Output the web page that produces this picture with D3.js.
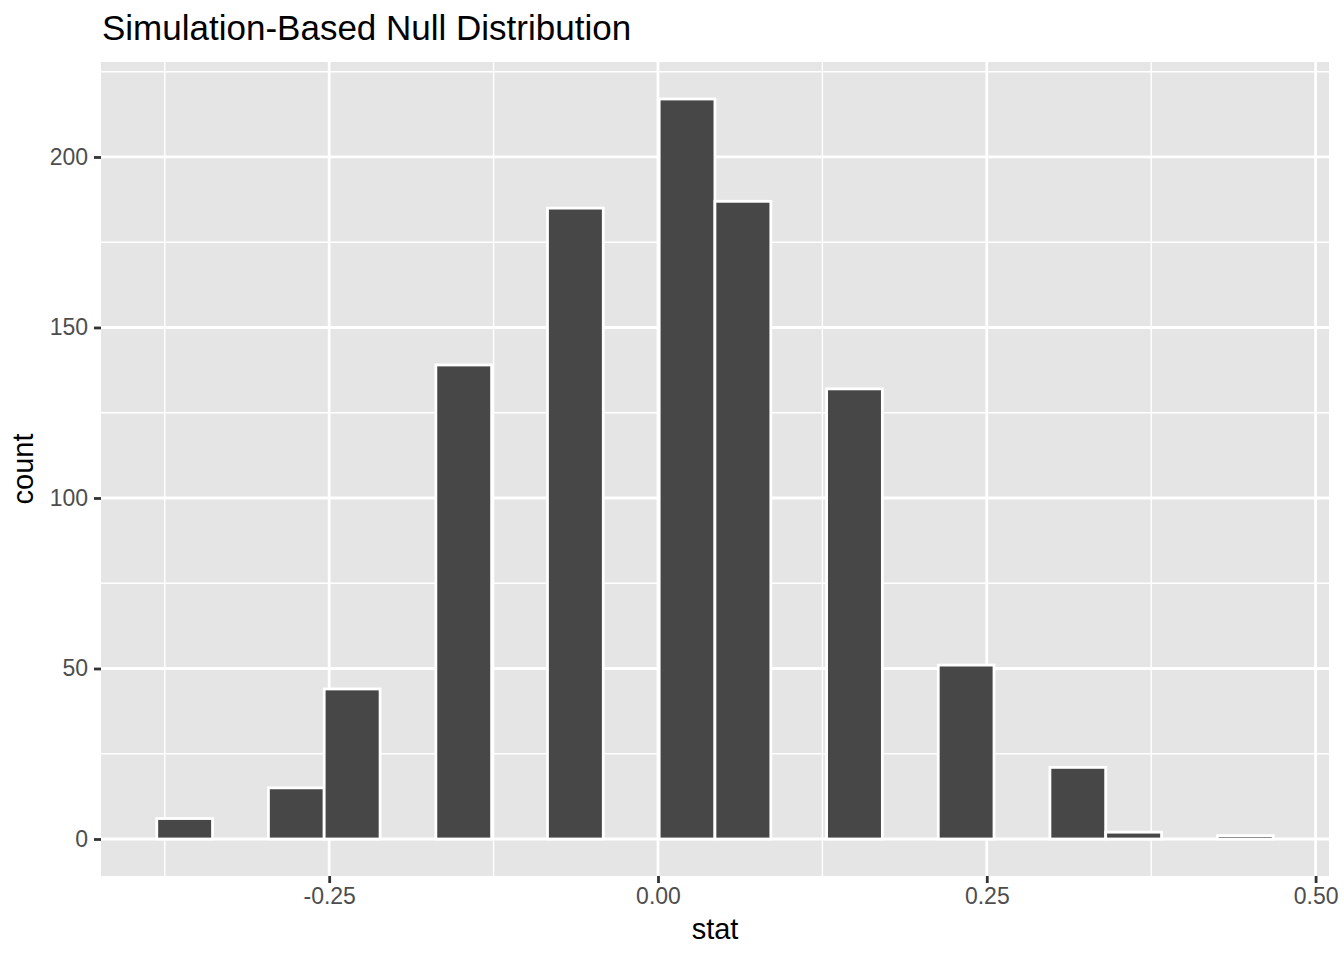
<!DOCTYPE html>
<html>
<head>
<meta charset="utf-8">
<script src="https://cdn.jsdelivr.net/npm/d3@7"></script>
<style>
  html, body { margin: 0; padding: 0; background: #ffffff; }
  svg { display: block; }
  text { font-family: "Liberation Sans", Arial, Helvetica, sans-serif; }
</style>
</head>
<body>
<svg id="chart" width="1344" height="960"></svg>
<script>
// ---- data ----
const binLeft = [-0.3811, -0.3387, -0.2962, -0.2538, -0.2113, -0.1689, -0.1265, -0.0840, -0.0416, 0.0009,
                 0.0433, 0.0858, 0.1282, 0.1706, 0.2131, 0.2555, 0.2980, 0.3404, 0.3829, 0.4253];
const binRight = [-0.3387, -0.2962, -0.2538, -0.2113, -0.1689, -0.1265, -0.0840, -0.0416, 0.0009, 0.0433,
                  0.0858, 0.1282, 0.1706, 0.2131, 0.2555, 0.2980, 0.3404, 0.3829, 0.4253, 0.4678];
const counts = [6, 0, 15, 44, 0, 139, 0, 185, 0, 217, 187, 0, 132, 0, 51, 0, 21, 2, 0, 1];
const xTicks = [-0.25, 0.00, 0.25, 0.50];
const xTickLabels = ["-0.25", "0.00", "0.25", "0.50"];
const xMinor = [-0.375, -0.125, 0.125, 0.375];
const yTicks = [0, 50, 100, 150, 200];
const yMinor = [25, 75, 125, 175, 225];
const titleText = "Simulation-Based Null Distribution";
const xTitle = "stat";
const yTitle = "count";

// ---- layout ----
const panel = { left: 101, top: 62, right: 1329, bottom: 876 };
const svg = d3.select("#chart");

const x = d3.scaleLinear().domain([-0.4235, 0.5102]).range([panel.left, panel.right]);
const y = d3.scaleLinear().domain([-10.85, 227.85]).range([panel.bottom, panel.top]);

// panel background
svg.append("rect")
  .attr("x", panel.left).attr("y", panel.top)
  .attr("width", panel.right - panel.left).attr("height", panel.bottom - panel.top)
  .attr("fill", "#E5E5E5");

const grid = svg.append("g");
// minor grid
grid.selectAll(".xminor").data(xMinor).enter().append("line")
  .attr("x1", d => x(d)).attr("x2", d => x(d))
  .attr("y1", panel.top).attr("y2", panel.bottom)
  .attr("stroke", "#fff").attr("stroke-width", 1.4);
grid.selectAll(".yminor").data(yMinor).enter().append("line")
  .attr("y1", d => y(d)).attr("y2", d => y(d))
  .attr("x1", panel.left).attr("x2", panel.right)
  .attr("stroke", "#fff").attr("stroke-width", 1.4);
// major grid
grid.selectAll(".xmajor").data(xTicks).enter().append("line")
  .attr("x1", d => x(d)).attr("x2", d => x(d))
  .attr("y1", panel.top).attr("y2", panel.bottom)
  .attr("stroke", "#fff").attr("stroke-width", 2.8);
grid.selectAll(".ymajor").data(yTicks).enter().append("line")
  .attr("y1", d => y(d)).attr("y2", d => y(d))
  .attr("x1", panel.left).attr("x2", panel.right)
  .attr("stroke", "#fff").attr("stroke-width", 2.8);

// bars
svg.append("g").selectAll("rect").data(counts).enter().append("rect")
  .attr("x", (d, i) => x(binLeft[i]))
  .attr("width", (d, i) => x(binRight[i]) - x(binLeft[i]))
  .attr("y", d => y(d))
  .attr("height", d => y(0) - y(d))
  .attr("fill", "#474747")
  .attr("stroke", "#ffffff")
  .attr("stroke-width", 2.8);

// axes
const xAxis = d3.axisBottom(x).tickValues(xTicks)
  .tickFormat((d, i) => xTickLabels[i]).tickSize(7).tickPadding(5);
const gx = svg.append("g").attr("transform", `translate(0,${panel.bottom})`).call(xAxis);
gx.select(".domain").remove();
gx.selectAll(".tick line").attr("stroke", "#333333").attr("stroke-width", 2.8);
gx.selectAll(".tick text").attr("fill", "#4D4D4D").style("font-size", "23px")
  .style("font-family", '"Liberation Sans", Arial, sans-serif');

const yAxis = d3.axisLeft(y).tickValues(yTicks).tickSize(7).tickPadding(6)
  .tickFormat(d3.format("d"));
const gy = svg.append("g").attr("transform", `translate(${panel.left},0)`).call(yAxis);
gy.select(".domain").remove();
gy.selectAll(".tick line").attr("stroke", "#333333").attr("stroke-width", 2.8);
gy.selectAll(".tick text").attr("fill", "#4D4D4D").style("font-size", "23px")
  .style("font-family", '"Liberation Sans", Arial, sans-serif');

// titles
svg.append("text").attr("x", panel.left + 1).attr("y", 40)
  .style("font-size", "35px").attr("fill", "#000").text(titleText);
svg.append("text").attr("x", (panel.left + panel.right) / 2).attr("y", 939)
  .attr("text-anchor", "middle").style("font-size", "29px").attr("fill", "#000").text(xTitle);
svg.append("text")
  .attr("transform", `translate(33,${(panel.top + panel.bottom) / 2}) rotate(-90)`)
  .attr("text-anchor", "middle").style("font-size", "29px").attr("fill", "#000").text(yTitle);
</script>
</body>
</html>
